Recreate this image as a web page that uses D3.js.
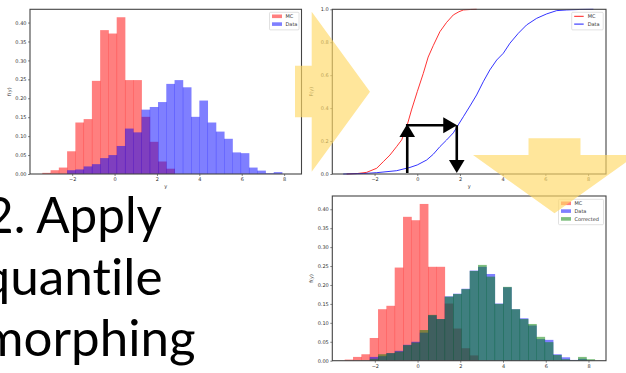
<!DOCTYPE html>
<html>
<head>
<meta charset="UTF-8">
<script src="https://d3js.org/d3.v7.min.js"></script>
<style>
  body { margin: 0; background: #fff; }
  svg { display: block; }
  .tick text { font-family: "DejaVu Sans", sans-serif; font-size: 5px; fill: #333; }
  .tick line { stroke: #333; stroke-width: 0.6; }
  .lbl { font-family: "DejaVu Sans", sans-serif; font-size: 5px; fill: #333; }
  .big { font-family: Lato, sans-serif; font-size: 50px; fill: #000; font-variant-ligatures: none; font-feature-settings: "liga" 0; }
</style>
</head>
<body>
<div id="slide"></div>
<script>
// histogram bins (shared by MC, Data, Corrected)
var binEdges = [-3.40, -3.01, -2.62, -2.23, -1.84, -1.45, -1.06, -0.67, -0.28, 0.11,
                0.50, 0.89, 1.28, 1.67, 2.06, 2.45, 2.84, 3.23, 3.62, 4.01,
                4.40, 4.79, 5.18, 5.57, 5.96, 6.35, 6.74, 7.13, 7.52, 7.91, 8.30];
var mcDensity = [0.003, 0.010, 0.017, 0.060, 0.136, 0.145, 0.246, 0.380, 0.371, 0.414,
                 0.248, 0.248, 0.151, 0.085, 0.033, 0.014, 0, 0, 0, 0,
                 0, 0, 0, 0, 0, 0, 0, 0, 0, 0];
var dataDensity = [0, 0, 0, 0.010, 0.012, 0.020, 0.026, 0.042, 0.050, 0.074,
                   0.120, 0.110, 0.170, 0.177, 0.190, 0.238, 0.248, 0.229, 0.151, 0.194,
                   0.136, 0.112, 0.093, 0.057, 0.055, 0.017, 0.009, 0.002, 0.005, 0];
var corrDensity = [0, 0, 0, 0.005, 0.017, 0.020, 0.024, 0.041, 0.048, 0.081,
                   0.121, 0.110, 0.169, 0.176, 0.189, 0.237, 0.253, 0.222, 0.150, 0.195,
                   0.136, 0.110, 0.097, 0.063, 0.049, 0.015, 0.004, 0.001, 0.010, 0.004];

// cumulative distributions
var mcCdfX = [-3.31, -2.8, -2.37, -1.9, -1.59, -1.28, -0.97, -0.73, -0.6, -0.47, -0.27, 0.0, 0.28,
              0.51, 0.75, 1.06, 1.37, 1.69, 1.95, 2.16, 2.5, 2.78];
var mcCdfY = [0.0, 0.003, 0.01, 0.035, 0.075, 0.115, 0.166, 0.207, 0.25, 0.298, 0.389, 0.5, 0.61,
              0.71, 0.78, 0.864, 0.92, 0.966, 0.985, 0.996, 0.999, 1.0];
var dataCdfX = [-3.47, -2.5, -1.9, -0.97, -0.34, 0.0, 0.44, 0.75, 1.06, 1.37, 1.69, 1.92, 2.16,
                2.47, 2.78, 3.09, 3.40, 3.72, 4.03, 4.34, 4.73, 5.12, 5.59, 6.06, 6.53, 7.0, 7.6, 8.25];
var dataCdfY = [0.0, 0.003, 0.008, 0.02, 0.04, 0.055, 0.085, 0.12, 0.166, 0.206, 0.25, 0.298, 0.348,
                0.413, 0.48, 0.56, 0.632, 0.692, 0.733, 0.794, 0.854, 0.905, 0.945, 0.972, 0.992, 0.996, 0.999, 1.0];

// quantile mapping shown with black arrows
var cdfLevel = 0.3;
var mcQuantile = -0.47;
var dataQuantile = 1.85;

var xTicks = [-2, 0, 2, 4, 6, 8];
var pdfTicks = [0, 0.05, 0.10, 0.15, 0.20, 0.25, 0.30, 0.35, 0.40];
var cdfTicks = [0, 0.2, 0.4, 0.6, 0.8, 1.0];
var textLines = ["2. Apply", "quantile", "morphing"];

var svg = d3.select("#slide").append("svg")
  .attr("width", 626).attr("height", 373);

function makeBins(vals) {
  return vals.map(function(v, i) { return {x0: binEdges[i], x1: binEdges[i + 1], v: v}; })
    .filter(function(d) { return d.v > 0; });
}

function axes(g, x, y, box, yt, yfmt, ylabel, xlabelY) {
  g.append("g").attr("transform", "translate(0," + box.bottom + ")")
    .call(d3.axisBottom(x).tickValues(xTicks).tickSize(2).tickPadding(1.5).tickFormat(d3.format("d")))
    .call(function(a) { a.select(".domain").remove(); });
  g.append("g").attr("transform", "translate(" + box.left + ",0)")
    .call(d3.axisLeft(y).tickValues(yt).tickSize(2).tickPadding(1.5).tickFormat(d3.format(yfmt)))
    .call(function(a) { a.select(".domain").remove(); });
  g.append("rect")
    .attr("x", box.left).attr("y", box.top)
    .attr("width", box.right - box.left).attr("height", box.bottom - box.top)
    .attr("fill", "none").attr("stroke", "#444").attr("stroke-width", 1.1);
  g.append("text").attr("class", "lbl")
    .attr("transform", "translate(" + (box.left - 19) + "," + ((box.top + box.bottom) / 2) + ") rotate(-90)")
    .attr("text-anchor", "middle").text(ylabel);
  // x label only where it falls inside the slide
  if (xlabelY < 370) {
    g.append("text").attr("class", "lbl")
      .attr("x", (box.left + box.right) / 2).attr("y", xlabelY)
      .attr("text-anchor", "middle").text("y");
  }
}

function legend(g, lx, ly, w, items, lines) {
  g.append("rect").attr("x", lx).attr("y", ly).attr("width", w).attr("height", items.length * 7.8 + 2)
    .attr("rx", 1).attr("fill", "#fff").attr("fill-opacity", 0.8)
    .attr("stroke", "#ccc").attr("stroke-width", 0.6);
  items.forEach(function(it, i) {
    var cy = ly + 4 + i * 7.8;
    if (lines) {
      g.append("line").attr("x1", lx + 2.5).attr("x2", lx + 12).attr("y1", cy).attr("y2", cy)
        .attr("stroke", it.color).attr("stroke-width", 0.9);
    } else {
      g.append("rect").attr("x", lx + 2.5).attr("y", cy - 1.8).attr("width", 10).attr("height", 3.6)
        .attr("fill", it.color).attr("fill-opacity", 0.5);
    }
    g.append("text").attr("class", "lbl").attr("x", lx + 16).attr("y", cy + 1.8).text(it.name);
  });
}

function histPanel(box, series, legendPos) {
  var g = svg.append("g");
  var x = d3.scaleLinear().domain([-3.99, 8.82]).range([box.left, box.right]);
  var y = d3.scaleLinear().domain([0, 0.435]).range([box.bottom, box.top]);
  series.forEach(function(s) {
    // bars overlap slightly, so the seams come out darker as in matplotlib
    g.selectAll(null).data(makeBins(s.values)).enter().append("rect")
      .attr("x", function(d) { return x(d.x0) - 0.2; })
      .attr("width", function(d) { return x(d.x1) - x(d.x0) + 0.4; })
      .attr("y", function(d) { return y(d.v); })
      .attr("height", function(d) { return box.bottom - y(d.v); })
      .attr("fill", s.color).attr("fill-opacity", 0.5);
  });
  axes(g, x, y, box, pdfTicks, ".2f", "f(y)", box.bottom + 13.5);
  legend(g, legendPos[0], legendPos[1], legendPos[2], series, false);
}

// panel 1: MC vs data pdf
histPanel({left: 30, right: 301.5, top: 9.3, bottom: 174},
  [{name: "MC", color: "red", values: mcDensity},
   {name: "Data", color: "blue", values: dataDensity}],
  [269.5, 12.3, 29.5]);

// panel 3: corrected
histPanel({left: 332.3, right: 606, top: 196, bottom: 360.7},
  [{name: "MC", color: "red", values: mcDensity},
   {name: "Data", color: "blue", values: dataDensity},
   {name: "Corrected", color: "green", values: corrDensity}],
  [558.5, 199.3, 45]);

// panel 2: cdfs
var boxB = {left: 332.3, right: 606, top: 9.3, bottom: 174};
var gB = svg.append("g");
var xB = d3.scaleLinear().domain([-3.98, 8.84]).range([boxB.left, boxB.right]);
var yB = d3.scaleLinear().domain([0, 1]).range([boxB.bottom, boxB.top]);
var line = d3.line().x(function(d) { return xB(d[0]); }).y(function(d) { return yB(d[1]); });
gB.append("path").datum(d3.zip(mcCdfX, mcCdfY)).attr("d", line)
  .attr("fill", "none").attr("stroke", "red").attr("stroke-width", 0.8);
gB.append("path").datum(d3.zip(dataCdfX, dataCdfY)).attr("d", line)
  .attr("fill", "none").attr("stroke", "blue").attr("stroke-width", 0.8);
axes(gB, xB, yB, boxB, cdfTicks, ".1f", "F(y)", boxB.bottom + 14);
legend(gB, 571.7, 12.3, 31.5, [{name: "MC", color: "red"}, {name: "Data", color: "blue"}], true);

// black arrows: MC quantile -> data quantile
var ax1 = xB(mcQuantile), ax2 = xB(dataQuantile), ay = yB(cdfLevel);
var arr = svg.append("g").attr("fill", "#000").attr("stroke", "#000");
arr.append("line").attr("x1", ax1).attr("x2", ax1).attr("y1", yB(0) - 1).attr("y2", ay + 10)
  .attr("stroke-width", 2.6);
arr.append("path").attr("stroke", "none")
  .attr("d", "M" + (ax1 - 7.8) + "," + (ay + 12.3) + "L" + (ax1 + 7.8) + "," + (ay + 12.3) + "L" + ax1 + "," + (ay - 0.5) + "Z");
arr.append("line").attr("x1", ax1 - 1.3).attr("x2", ax2 - 12).attr("y1", ay + 0.6).attr("y2", ay + 0.6)
  .attr("stroke-width", 2.6);
arr.append("path").attr("stroke", "none")
  .attr("d", "M" + (ax2 - 13.5) + "," + (ay - 7.4) + "L" + (ax2 - 13.5) + "," + (ay + 8.6) + "L" + (ax2 + 0.3) + "," + (ay + 0.6) + "Z");
arr.append("line").attr("x1", ax2).attr("x2", ax2).attr("y1", ay + 0.6).attr("y2", yB(0) - 12)
  .attr("stroke-width", 2.6);
arr.append("path").attr("stroke", "none")
  .attr("d", "M" + (ax2 - 7.8) + "," + (yB(0) - 14) + "L" + (ax2 + 7.8) + "," + (yB(0) - 14) + "L" + ax2 + "," + (yB(0) - 1) + "Z");

// slide text
var lineX = [-15, -18.5, -18.5];
var lineY = [233, 295, 356];
var lineW = [177, 181, 214];
textLines.forEach(function(t, i) {
  svg.append("text").attr("class", "big")
    .attr("x", lineX[i]).attr("y", lineY[i])
    .attr("textLength", lineW[i]).attr("lengthAdjust", "spacingAndGlyphs")
    .text(t);
});

// yellow block arrows
var yellow = svg.append("g").attr("fill", "#FFD966").attr("fill-opacity", 0.65);
yellow.append("path").attr("d",
  "M295,65.7 L311.7,65.7 L311.7,11.7 L370,91.7 L311.7,171.7 L311.7,117.3 L295,117.3 Z");
yellow.append("path").attr("d",
  "M528.5,138.3 L580.5,138.3 L580.5,155 L636,155 L554.5,213.3 L473,155 L528.5,155 Z");
</script>
</body>
</html>
